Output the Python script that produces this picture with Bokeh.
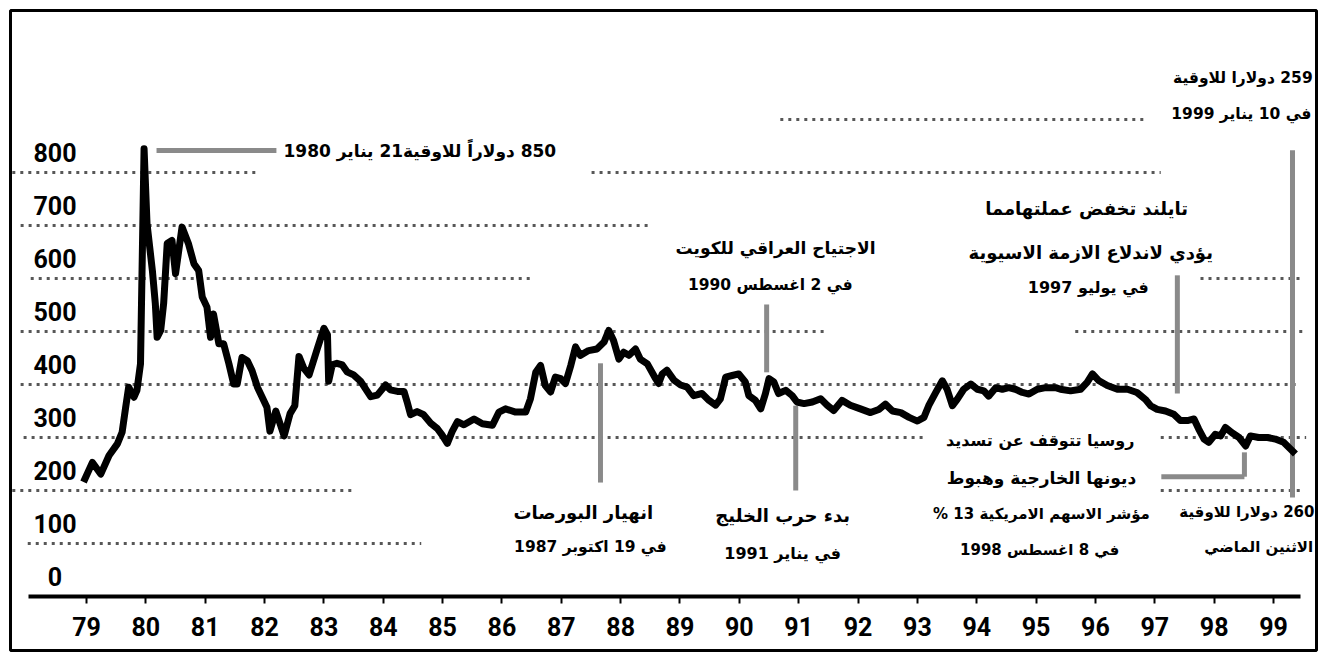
from bokeh.plotting import figure
from bokeh.models import Range1d, LinearAxis, FixedTicker, ColumnDataSource
from bokeh.core.properties import value
from bokeh.embed import file_html
from bokeh.resources import INLINE

# ---- data: gold price, US$ per ounce ----
years = [1978.95, 1979.10, 1979.24, 1979.38, 1979.52, 1979.60, 1979.66, 1979.71, 1979.80, 1979.85,
         1979.91, 1979.97, 1980.02, 1980.11, 1980.16, 1980.19, 1980.25, 1980.30, 1980.36, 1980.44,
         1980.50, 1980.61, 1980.72, 1980.81, 1980.89, 1980.95, 1981.03, 1981.09, 1981.14, 1981.23,
         1981.31, 1981.40, 1981.48, 1981.54, 1981.62, 1981.71, 1981.79, 1981.88, 1981.96, 1982.04,
         1982.09, 1982.19, 1982.33, 1982.43, 1982.51, 1982.58, 1982.66, 1982.75, 1982.89, 1983.00,
         1983.06, 1983.08, 1983.14, 1983.22, 1983.31, 1983.39, 1983.50, 1983.62, 1983.73, 1983.79,
         1983.90, 1984.04, 1984.12, 1984.24, 1984.35, 1984.40, 1984.46, 1984.57, 1984.68, 1984.80,
         1984.91, 1984.99, 1985.08, 1985.16, 1985.25, 1985.36, 1985.53, 1985.67, 1985.84, 1985.95,
         1986.06, 1986.23, 1986.40, 1986.48, 1986.57, 1986.65, 1986.73, 1986.82, 1986.90, 1986.99,
         1987.07, 1987.16, 1987.24, 1987.32, 1987.46, 1987.60, 1987.72, 1987.80, 1987.88, 1987.97,
         1988.05, 1988.14, 1988.25, 1988.33, 1988.45, 1988.59, 1988.64, 1988.70, 1988.78, 1988.90,
         1989.01, 1989.12, 1989.23, 1989.37, 1989.49, 1989.60, 1989.68, 1989.77, 1989.88, 1989.99,
         1990.10, 1990.16, 1990.27, 1990.36, 1990.44, 1990.50, 1990.58, 1990.66, 1990.78, 1990.89,
         1990.97, 1991.09, 1991.23, 1991.37, 1991.48, 1991.59, 1991.73, 1991.87, 1992.04, 1992.21,
         1992.35, 1992.46, 1992.58, 1992.72, 1992.86, 1993.00, 1993.11, 1993.19, 1993.31, 1993.42,
         1993.50, 1993.59, 1993.67, 1993.78, 1993.90, 1994.01, 1994.12, 1994.20, 1994.32, 1994.43,
         1994.54, 1994.65, 1994.77, 1994.88, 1995.02, 1995.16, 1995.33, 1995.41, 1995.58, 1995.75,
         1995.86, 1995.95, 1996.06, 1996.20, 1996.37, 1996.54, 1996.70, 1996.84, 1996.93, 1997.04,
         1997.18, 1997.32, 1997.43, 1997.55, 1997.66, 1997.74, 1997.83, 1997.91, 1998.02, 1998.11,
         1998.19, 1998.30, 1998.42, 1998.53, 1998.61, 1998.75, 1998.90, 1999.03, 1999.17, 1999.29,
         1999.37]
prices = [216, 253, 231, 266, 288, 310, 357, 395, 376, 389,
          439, 845, 703, 615, 552, 489, 502, 553, 666, 672,
          609, 697, 665, 628, 615, 565, 546, 489, 533, 477,
          477, 439, 401, 401, 451, 445, 426, 395, 376, 357,
          312, 350, 303, 345, 360, 453, 431, 418, 468, 506,
          494, 406, 437, 440, 437, 424, 418, 406, 387, 377,
          380, 399, 390, 387, 387, 368, 343, 349, 343, 327,
          317, 305, 289, 311, 330, 324, 335, 326, 323, 348,
          354, 348, 348, 373, 423, 436, 398, 386, 414, 411,
          402, 436, 471, 455, 464, 467, 480, 502, 483, 448,
          461, 455, 467, 448, 439, 411, 402, 420, 427, 408,
          399, 395, 379, 383, 370, 361, 373, 414, 417, 420,
          405, 379, 370, 354, 383, 411, 405, 383, 389, 379,
          367, 364, 367, 373, 361, 351, 370, 361, 354, 347,
          353, 363, 350, 347, 338, 331, 338, 360, 385, 407,
          391, 360, 372, 391, 401, 391, 388, 378, 394, 391,
          394, 391, 385, 382, 391, 394, 394, 391, 388, 391,
          404, 420, 407, 398, 391, 391, 385, 372, 360, 353,
          350, 344, 332, 332, 335, 316, 297, 291, 306, 303,
          319, 309, 300, 284, 303, 300, 300, 297, 291, 278,
          269]

y_levels = [800, 700, 600, 500, 400, 300, 200, 100, 0]
y_labels = ["800", "700", "600", "500", "400", "300", "200", "100", "0"]
x_ticks = list(range(1979, 2000))
x_labels = ["79", "80", "81", "82", "83", "84", "85", "86", "87", "88", "89",
            "90", "91", "92", "93", "94", "95", "96", "97", "98", "99"]

# notes (Arabic), anchored in data space
notes = [
    "850 دولاراً للاوقية21 يناير 1980",
    "انهيار البورصات", "في 19 اكتوبر 1987",
    "الاجتياح العراقي للكويت", "في 2 اغسطس 1990",
    "بدء حرب الخليج", "في يناير 1991",
    "تايلند تخفض عملتهامما", "يؤدي لاندلاع الازمة الاسيوية", "في يوليو 1997",
    "259 دولارا للاوقية", "في 10 يناير 1999",
    "روسيا تتوقف عن تسديد", "ديونها الخارجية وهبوط", "مؤشر الاسهم الامريكية 13 %", "في 8 اغسطس 1998",
    "260 دولارا للاوقية", "الاثنين الماضي",
]

# ---- layout / styling (not data) ----
note_x = [1982.32, 1987.37, 1987.49, 1990.61, 1990.52, 1990.73, 1990.73,
          1995.85, 1995.92, 1995.88, 1999.66, 1999.64,
          1995.07, 1995.09, 1995.09, 1995.06, 1999.69, 1998.75]
note_y = [841.5, 158.5, 94, 658.5, 587, 153, 81,
          732, 649, 583, 979, 911,
          294, 224.5, 156.6, 87, 158.5, 92.5]
note_align = ["left", "center", "center", "center", "center", "center", "center",
              "center", "center", "center", "right", "right",
              "center", "center", "center", "center", "right", "center"]
note_size = ["17px", "18px", "15.5px", "17px", "15.5px", "18px", "16px",
             "18px", "18px", "16px", "15.5px", "15.5px",
             "16px", "17px", "15px", "15px", "15px", "15px"]

grid_level = [900, 800, 800, 700, 600, 600, 500, 500, 400, 300, 300, 200, 200, 100]
grid_x0 = [1990.69, 1977.75, 1987.51, 1977.89, 1978.06, 1997.77, 1977.89, 1995.66,
           1977.89, 1977.94, 1997.10, 1977.75, 1997.10, 1978.01]
grid_x1 = [1996.84, 1981.85, 1997.10, 1988.47, 1986.48, 1999.45, 1991.45, 1999.55,
           1999.45, 1993.10, 1999.55, 1983.53, 1999.45, 1984.64]

call_x0 = [1980.18, 1987.66, 1990.46, 1990.95, 1997.38, 1999.32, 1998.51, 1997.11]
call_y0 = [841.5, 440, 551, 360, 606, 842, 272, 226]
call_x1 = [1982.20, 1987.66, 1990.46, 1990.95, 1997.38, 1999.32, 1998.51, 1998.51]
call_y1 = [841.5, 215, 423, 200, 383, 187, 226, 226]

p = figure(width=1326, height=660,
           x_range=Range1d(1977.7195, 1999.7245), y_range=Range1d(-101.9, 1105.7),
           x_axis_type=None, y_axis_type=None, toolbar_location=None,
           output_backend="svg",
           min_border_left=10, min_border_right=10, min_border_top=10, min_border_bottom=10)
p.outline_line_color = "black"
p.outline_line_width = 3
p.background_fill_color = "white"
p.border_fill_color = "white"

# dotted partial gridlines
p.segment(x0=grid_x0, y0=grid_level, x1=grid_x1, y1=grid_level,
          line_color="#3a3a3a", line_width=3, line_dash="3 5", line_alpha=0.85)

# callout lines
p.segment(x0=call_x0, y0=call_y0, x1=call_x1, y1=call_y1,
          line_color="#8a8a8a", line_width=5, line_cap="butt")

# price line
p.line(years, prices, line_color="black", line_width=7, line_join="round")

# y labels
p.text(x=[1978.47] * len(y_levels), y=y_levels, text=y_labels,
       text_font=value("Roboto"), text_font_style="bold", text_font_size="25px",
       text_color="black", text_align="center", text_baseline="middle", y_offset=-20)

# notes
src = ColumnDataSource(dict(x=note_x, y=note_y,
                            t=["\u200f" + s + "\u200f" for s in notes],
                            a=note_align, s=note_size))
p.text(x="x", y="y", text="t", text_align="a", text_font_size="s", source=src,
       text_font=value("DejaVu Sans"), text_font_style="bold",
       text_color="black", text_baseline="middle")

# x axis drawn at price 0
xaxis = LinearAxis(fixed_location=0, ticker=FixedTicker(ticks=x_ticks),
                   major_label_overrides=dict(zip(x_ticks, x_labels)),
                   bounds=(1978.02, 1999.46))
xaxis.axis_line_width = 4
xaxis.axis_line_color = "black"
xaxis.major_tick_out = 7
xaxis.major_tick_in = 0
xaxis.major_tick_line_width = 2
xaxis.minor_tick_out = 0
xaxis.minor_tick_in = 0
xaxis.major_label_text_font = "Roboto"
xaxis.major_label_text_font_style = "bold"
xaxis.major_label_text_font_size = "25px"
xaxis.major_label_text_color = "black"
xaxis.major_label_standoff = 14
p.add_layout(xaxis, "below")

open("out.html", "w").write(file_html(p, INLINE))
